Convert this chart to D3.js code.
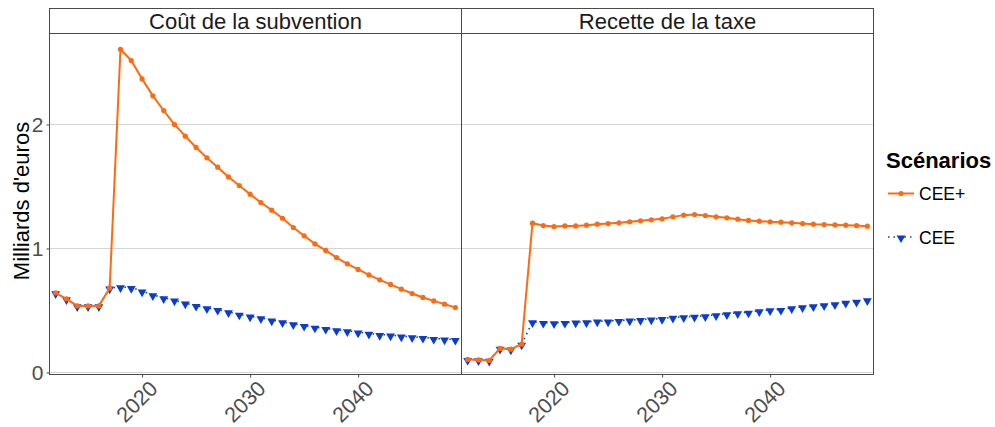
<!DOCTYPE html>
<html>
<head>
<meta charset="utf-8">
<script src="https://cdn.jsdelivr.net/npm/d3@7"></script>
<style>
  html, body { margin: 0; padding: 0; background: #fff; }
  svg { display: block; font-family: "Liberation Sans", Arial, sans-serif; }
</style>
</head>
<body>
<svg id="chart" width="995" height="427"></svg>
<script>
const years = [2012,2013,2014,2015,2016,2017,2018,2019,2020,2021,2022,2023,2024,2025,2026,2027,2028,2029,2030,2031,2032,2033,2034,2035,2036,2037,2038,2039,2040,2041,2042,2043,2044,2045,2046,2047,2048,2049];
const panels = ["Coût de la subvention", "Recette de la taxe"];
const seriesNames = ["CEE+", "CEE"];
const subvCEEplus = [0.642,0.594,0.537,0.537,0.537,0.682,2.607,2.516,2.368,2.231,2.113,2.0,1.906,1.815,1.731,1.656,1.577,1.508,1.438,1.371,1.309,1.244,1.169,1.102,1.037,0.984,0.927,0.876,0.831,0.787,0.747,0.710,0.672,0.637,0.605,0.577,0.551,0.524];
const subvCEE = [0.642,0.594,0.537,0.537,0.537,0.680,0.690,0.685,0.656,0.626,0.602,0.583,0.559,0.540,0.521,0.508,0.489,0.470,0.454,0.440,0.422,0.408,0.392,0.379,0.365,0.355,0.344,0.335,0.325,0.315,0.306,0.301,0.293,0.287,0.282,0.274,0.269,0.266];
const taxeCEEplus = [0.105,0.102,0.097,0.194,0.188,0.228,1.204,1.185,1.177,1.182,1.182,1.188,1.196,1.201,1.207,1.215,1.223,1.231,1.239,1.255,1.269,1.274,1.266,1.255,1.247,1.236,1.226,1.220,1.215,1.212,1.207,1.201,1.196,1.193,1.190,1.188,1.185,1.180];
const taxeCEE = [0.105,0.102,0.097,0.194,0.188,0.228,0.408,0.403,0.400,0.403,0.406,0.408,0.414,0.414,0.419,0.422,0.427,0.430,0.435,0.444,0.449,0.452,0.457,0.465,0.473,0.481,0.486,0.497,0.505,0.508,0.521,0.529,0.537,0.545,0.553,0.565,0.573,0.586];
const xTicks = [2020, 2030, 2040];
const yTicks = [0, 1, 2];
const yTitle = "Milliards d'euros";
const legendTitle = "Scénarios";

const panelData = [
  { title: panels[0], plus: subvCEEplus, cee: subvCEE },
  { title: panels[1], plus: taxeCEEplus, cee: taxeCEE }
];

const ORANGE = "#ff6a10";
const BLUE = "#0a3cd2";
const AXIS = "#4a4a4a";
const GRID = "#d4d4d4";

const svg = d3.select("#chart");
svg.append("rect").attr("width", 995).attr("height", 427).attr("fill", "#fff");

const stripTop = 8.5, stripBottom = 33.5, plotBottom = 374.5;
const panelX0 = [49.5, 461.5], panelW = 412;

const y = d3.scaleLinear().domain([-0.0165, 2.734]).range([plotBottom, stripBottom]);

const tri = d3.symbol().type(d3.symbolTriangle).size(34);

panelData.forEach((p, i) => {
  const x0 = panelX0[i];
  const x = d3.scaleLinear().domain([2011.43, 2049.57]).range([x0, x0 + panelW]);
  const g = svg.append("g");

  // gridlines
  g.selectAll(".grid").data(yTicks).enter().append("line")
    .attr("x1", x0).attr("x2", x0 + panelW)
    .attr("y1", d => y(d)).attr("y2", d => y(d))
    .attr("stroke", GRID).attr("stroke-width", 1);

  // strip
  g.append("rect").attr("x", x0).attr("y", stripTop).attr("width", panelW)
    .attr("height", stripBottom - stripTop).attr("fill", "#fff")
    .attr("stroke", AXIS).attr("stroke-width", 1);
  g.append("text").attr("x", x0 + panelW / 2).attr("y", 29)
    .attr("text-anchor", "middle").attr("font-size", 22).attr("fill", "#1a1a1a")
    .text(p.title);

  // panel border
  g.append("rect").attr("x", x0).attr("y", stripBottom).attr("width", panelW)
    .attr("height", plotBottom - stripBottom).attr("fill", "none")
    .attr("stroke", AXIS).attr("stroke-width", 1);

  // x axis ticks and labels
  const xa = g.append("g").attr("transform", `translate(0,${plotBottom})`)
    .call(d3.axisBottom(x).tickValues(xTicks).tickSize(3).tickFormat(""));
  xa.select(".domain").remove();
  xa.selectAll("line").attr("stroke", AXIS);
  g.selectAll(".xl").data(xTicks).enter().append("text")
    .attr("transform", d => `translate(${x(d) + 6},379) rotate(-45)`)
    .attr("text-anchor", "end").attr("dy", "0.72em")
    .attr("font-size", 21.5).attr("fill", "#4d4d4d")
    .text(d => d);

  // data
  const lineGen = d3.line().x((d, j) => x(years[j])).y(d => y(d));
  g.append("path").datum(p.cee).attr("d", lineGen).attr("fill", "none")
    .attr("stroke", BLUE).attr("stroke-width", 1.6).attr("stroke-dasharray", "1.5,4");
  g.selectAll(".tri").data(p.cee).enter().append("path")
    .attr("d", tri)
    .attr("transform", (d, j) => `translate(${x(years[j])},${y(d) + 1}) rotate(180)`)
    .attr("fill", BLUE);
  g.append("path").datum(p.plus).attr("d", lineGen).attr("fill", "none")
    .attr("stroke", ORANGE).attr("stroke-width", 2);
  g.selectAll(".pt").data(p.plus).enter().append("circle")
    .attr("cx", (d, j) => x(years[j])).attr("cy", d => y(d)).attr("r", 2.6)
    .attr("fill", ORANGE);
});

// y axis
const ya = svg.append("g").attr("transform", `translate(${panelX0[0]},0)`)
  .call(d3.axisLeft(y).tickValues(yTicks).tickSize(3).tickPadding(3).tickFormat(d3.format("d")));
ya.select(".domain").remove();
ya.selectAll("line").attr("stroke", AXIS);
ya.selectAll("text").attr("font-size", 21).attr("fill", "#4d4d4d")
  .attr("font-family", "Liberation Sans, Arial, sans-serif");

svg.append("text").attr("transform", "translate(29,201) rotate(-90)")
  .attr("text-anchor", "middle").attr("font-size", 22).attr("fill", "#000")
  .text(yTitle);

// legend
const lg = svg.append("g");
lg.append("text").attr("x", 886).attr("y", 168).attr("font-size", 22)
  .attr("font-weight", "bold").attr("fill", "#000").text(legendTitle);
const ly = [193.5, 237];
seriesNames.forEach((s, i) => {
  const yy = ly[i];
  if (i === 0) {
    lg.append("line").attr("x1", 888).attr("x2", 914).attr("y1", yy).attr("y2", yy)
      .attr("stroke", ORANGE).attr("stroke-width", 2);
    lg.append("circle").attr("cx", 901).attr("cy", yy).attr("r", 2.6).attr("fill", ORANGE);
  } else {
    lg.append("line").attr("x1", 888).attr("x2", 914).attr("y1", yy).attr("y2", yy)
      .attr("stroke", BLUE).attr("stroke-width", 1.6).attr("stroke-dasharray", "1.5,4");
    lg.append("path").attr("d", tri).attr("transform", `translate(901,${yy + 1}) rotate(180)`)
      .attr("fill", BLUE);
  }
  lg.append("text").attr("x", 919).attr("y", yy + 6.5).attr("font-size", 17.5)
    .attr("fill", "#000").text(s);
});
</script>
</body>
</html>
